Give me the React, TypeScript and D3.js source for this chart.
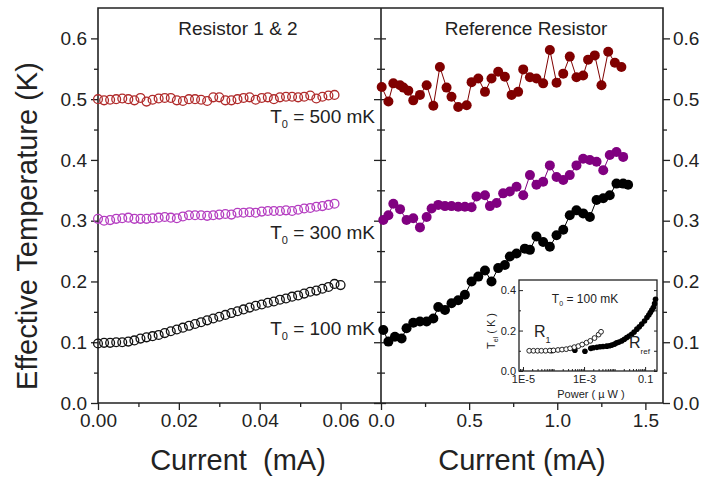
import React, { useEffect, useRef } from 'react';
import * as d3 from 'd3';

// Resistor 1 & 2: bias current (mA) vs effective temperature (K)
const currentLeft = [
  0, 0.0015, 0.003, 0.0045, 0.006, 0.0075, 0.009, 0.0105, 0.012, 0.0135,
  0.015, 0.0165, 0.018, 0.0195, 0.021, 0.0225, 0.024, 0.0255, 0.027, 0.0285,
  0.03, 0.0315, 0.033, 0.0345, 0.036, 0.0375, 0.039, 0.0405, 0.042, 0.0435,
  0.045, 0.0465, 0.048, 0.0495, 0.051, 0.0525, 0.054, 0.0555, 0.057, 0.0585, 0.06,
];
const tempLeft500 = [
  0.500, 0.498, 0.499, 0.500, 0.501, 0.500, 0.498, 0.502, 0.496, 0.499,
  0.501, 0.502, 0.502, 0.498, 0.497, 0.500, 0.500, 0.499, 0.497, 0.503,
  0.503, 0.498, 0.498, 0.500, 0.502, 0.503, 0.499, 0.502, 0.503, 0.500,
  0.503, 0.504, 0.504, 0.503, 0.504, 0.506, 0.501, 0.504, 0.506, 0.507,
];
const tempLeft300 = [
  0.303, 0.300, 0.301, 0.303, 0.304, 0.305, 0.303, 0.303, 0.303, 0.304,
  0.305, 0.306, 0.305, 0.304, 0.307, 0.309, 0.309, 0.309, 0.308, 0.309,
  0.310, 0.311, 0.310, 0.313, 0.313, 0.314, 0.313, 0.315, 0.316, 0.316,
  0.316, 0.317, 0.316, 0.318, 0.320, 0.321, 0.323, 0.324, 0.326, 0.328,
];
const tempLeft100 = [
  0.098, 0.099, 0.099, 0.100, 0.100, 0.101, 0.103, 0.106, 0.108, 0.110,
  0.112, 0.115, 0.118, 0.121, 0.124, 0.127, 0.130, 0.133, 0.136, 0.139,
  0.142, 0.145, 0.148, 0.151, 0.154, 0.157, 0.160, 0.162, 0.165, 0.167,
  0.170, 0.172, 0.175, 0.177, 0.180, 0.183, 0.185, 0.188, 0.191, 0.196, 0.194,
];

// Reference resistor
const currentRef500 = [
  0.004, 0.042, 0.070, 0.108, 0.127, 0.155, 0.183, 0.221, 0.259, 0.297,
  0.334, 0.372, 0.400, 0.438, 0.486, 0.514, 0.552, 0.590, 0.627, 0.665,
  0.703, 0.741, 0.778, 0.807, 0.845, 0.882, 0.920, 0.958, 0.996, 1.034,
  1.071, 1.109, 1.147, 1.175, 1.213, 1.251, 1.289, 1.327, 1.364,
];
const tempRef500 = [
  0.520, 0.496, 0.526, 0.523, 0.519, 0.514, 0.498, 0.507, 0.523, 0.489,
  0.553, 0.519, 0.504, 0.487, 0.490, 0.528, 0.534, 0.512, 0.534, 0.545,
  0.537, 0.507, 0.512, 0.549, 0.536, 0.534, 0.526, 0.581, 0.527, 0.542,
  0.570, 0.536, 0.539, 0.565, 0.572, 0.523, 0.578, 0.560, 0.553,
];
const currentRef300 = [
  0.013, 0.042, 0.070, 0.108, 0.145, 0.183, 0.221, 0.259, 0.287, 0.325,
  0.363, 0.400, 0.438, 0.476, 0.514, 0.542, 0.590, 0.618, 0.656, 0.693,
  0.731, 0.769, 0.807, 0.845, 0.882, 0.920, 0.958, 0.996, 1.034, 1.071,
  1.109, 1.147, 1.185, 1.223, 1.261, 1.298, 1.336, 1.374,
];
const tempRef300 = [
  0.301, 0.309, 0.328, 0.319, 0.301, 0.304, 0.289, 0.306, 0.320, 0.326,
  0.324, 0.324, 0.323, 0.323, 0.322, 0.340, 0.342, 0.324, 0.329, 0.345,
  0.348, 0.356, 0.342, 0.375, 0.359, 0.364, 0.391, 0.372, 0.367, 0.375,
  0.391, 0.402, 0.400, 0.397, 0.383, 0.408, 0.413, 0.405,
];
const currentRef100 = [
  0.013, 0.042, 0.079, 0.117, 0.145, 0.183, 0.221, 0.259, 0.297, 0.325,
  0.363, 0.400, 0.438, 0.476, 0.514, 0.552, 0.590, 0.627, 0.665, 0.703,
  0.731, 0.769, 0.816, 0.845, 0.882, 0.920, 0.958, 0.996, 1.034, 1.071,
  1.109, 1.147, 1.185, 1.223, 1.261, 1.298, 1.336, 1.374, 1.402,
];
const tempRef100 = [
  0.120, 0.101, 0.109, 0.106, 0.123, 0.132, 0.134, 0.134, 0.139, 0.158,
  0.153, 0.164, 0.169, 0.178, 0.200, 0.208, 0.218, 0.200, 0.222, 0.227,
  0.241, 0.246, 0.254, 0.252, 0.274, 0.265, 0.257, 0.276, 0.285, 0.309,
  0.317, 0.312, 0.306, 0.334, 0.337, 0.342, 0.361, 0.361, 0.359,
];

// inset: T_el vs dissipated power (uW) at T0 = 100 mK
const powerR1 = [
  1.6e-5, 2.2e-5, 3.0e-5, 4.0e-5, 5.5e-5, 7.6e-5, 1.0e-4, 1.4e-4, 1.9e-4, 2.6e-4,
  3.5e-4, 4.8e-4, 6.5e-4, 8.7e-4, 1.2e-3, 1.6e-3, 2.2e-3, 3.0e-3, 3.6e-3,
];
const tempR1 = [
  0.100, 0.100, 0.100, 0.100, 0.100, 0.101, 0.102, 0.104, 0.106, 0.108,
  0.112, 0.118, 0.123, 0.131, 0.140, 0.149, 0.163, 0.180, 0.194,
];
const powerRref = [
  8.7e-5, 5.0e-4, 1.07e-3, 1.66e-3, 2.0e-3, 2.63e-3, 3.31e-3, 4.17e-3, 5.5e-3, 6.76e-3,
  8.13e-3, 0.0100, 0.0117, 0.0141, 0.0174, 0.0209, 0.0251, 0.0302, 0.0363, 0.0437,
  0.0537, 0.0646, 0.0776, 0.0955, 0.115, 0.132, 0.148, 0.166, 0.186, 0.204, 0.219,
];
const tempRref = [
  0.100, 0.103, 0.098, 0.112, 0.115, 0.117, 0.120, 0.121, 0.123, 0.125,
  0.128, 0.133, 0.139, 0.143, 0.149, 0.157, 0.166, 0.173, 0.182, 0.193,
  0.207, 0.219, 0.232, 0.247, 0.264, 0.277, 0.289, 0.302, 0.314, 0.333, 0.355,
];

const tempTicks = [0, 0.1, 0.2, 0.3, 0.4, 0.5, 0.6];
const tempMinorTicks = [0.05, 0.15, 0.25, 0.35, 0.45, 0.55];
const leftCurrentTicks = [0, 0.02, 0.04, 0.06];
const leftCurrentMinor = [0.01, 0.03, 0.05];
const refCurrentTicks = [0, 0.5, 1.0, 1.5];
const refCurrentMinor = [0.25, 0.75, 1.25];
const insetTempTicks = [0, 0.2, 0.4];
const insetTempMinor = [0.1, 0.3];
const insetPowerTicks = [1e-5, 1e-3, 0.1];
const insetPowerLabels = ['1E-5', '1E-3', '0.1'];

const FONT = "'Liberation Sans', Arial, Helvetica, sans-serif";
const INK = '#222';

const TemperatureChart: React.FC = () => {
  const ref = useRef<SVGSVGElement>(null);

  useEffect(() => {
    const svg = d3.select(ref.current);
    svg.selectAll('*').remove();

    const xLeft = d3.scaleLinear().domain([0, 0.07]).range([98, 381]);
    const xRight = d3.scaleLinear().domain([0, 1.6]).range([381, 663]);
    const y = d3.scaleLinear().domain([0, 0.65]).range([403, 8]);

    const fmt1 = d3.format('.1f');
    const fmt2 = d3.format('.2f');

    // common axis styling
    const styleAxis = (g: any, size: number) => {
      g.select('.domain').remove();
      g.attr('font-family', FONT).attr('font-size', size).style('color', INK);
      g.selectAll('.tick line').attr('stroke-width', 1.3);
    };

    const addAxis = (axis: any, tx: number, ty: number, size = 19) => {
      const g = svg.append('g').attr('transform', `translate(${tx},${ty})`).call(axis);
      styleAxis(g, size);
      return g;
    };

    // left temperature axis
    addAxis(d3.axisLeft(y).tickValues(tempTicks).tickSize(7).tickPadding(4).tickFormat(fmt1), xLeft(0), 0);
    addAxis(d3.axisLeft(y).tickValues(tempMinorTicks).tickSize(4).tickFormat(() => ''), xLeft(0), 0);
    // shared divider: ticks into both panels
    addAxis(d3.axisLeft(y).tickValues(tempTicks).tickSize(7).tickFormat(() => ''), xLeft(0.07), 0);
    addAxis(d3.axisLeft(y).tickValues(tempMinorTicks).tickSize(4).tickFormat(() => ''), xLeft(0.07), 0);
    addAxis(d3.axisRight(y).tickValues(tempTicks).tickSize(5).tickFormat(() => ''), xRight(0), 0);
    addAxis(d3.axisRight(y).tickValues(tempMinorTicks).tickSize(4).tickFormat(() => ''), xRight(0), 0);
    // right temperature axis
    addAxis(d3.axisRight(y).tickValues(tempTicks).tickSize(7).tickPadding(3).tickFormat(fmt1), xRight(1.6), 0);
    addAxis(d3.axisRight(y).tickValues(tempMinorTicks).tickSize(4).tickFormat(() => ''), xRight(1.6), 0);

    // current axes
    addAxis(d3.axisBottom(xLeft).tickValues(leftCurrentTicks).tickSize(7).tickPadding(4).tickFormat(fmt2), 0, y(0));
    addAxis(d3.axisBottom(xLeft).tickValues(leftCurrentMinor).tickSize(4).tickFormat(() => ''), 0, y(0));
    addAxis(d3.axisBottom(xRight).tickValues(refCurrentTicks).tickSize(7).tickPadding(4).tickFormat(fmt1), 0, y(0));
    addAxis(d3.axisBottom(xRight).tickValues(refCurrentMinor).tickSize(4).tickFormat(() => ''), 0, y(0));

    // frame
    const [x0, x1] = [xLeft(0), xRight(1.6)];
    const [yTop, yBot] = [y(0.65), y(0)];
    svg.append('path')
      .attr('d', `M${x0},${yTop}H${x1}V${yBot}H${x0}Z M${xLeft(0.07)},${yTop}V${yBot}`)
      .attr('fill', 'none')
      .attr('stroke', INK)
      .attr('stroke-width', 1.6);

    // open circles for resistors 1 & 2
    const leftSeries = [
      { temps: tempLeft500, color: '#b02a2a' },
      { temps: tempLeft300, color: '#b43cc0' },
      { temps: tempLeft100, color: '#111' },
    ];
    leftSeries.forEach(s => {
      svg.append('g')
        .selectAll('circle')
        .data(s.temps)
        .join('circle')
        .attr('cx', (_, i) => xLeft(currentLeft[i]))
        .attr('cy', d => y(d))
        .attr('r', 4.4)
        .attr('fill', 'none')
        .attr('stroke', s.color)
        .attr('stroke-width', 1.3);
    });

    // filled, connected points for the reference resistor
    const refSeries = [
      { currents: currentRef500, temps: tempRef500, color: '#800000' },
      { currents: currentRef300, temps: tempRef300, color: '#800080' },
      { currents: currentRef100, temps: tempRef100, color: '#000' },
    ];
    const line = d3.line<[number, number]>().x(d => xRight(d[0])).y(d => y(d[1]));
    refSeries.forEach(s => {
      const pts = d3.zip(s.currents, s.temps) as [number, number][];
      svg.append('path')
        .datum(pts)
        .attr('d', line)
        .attr('fill', 'none')
        .attr('stroke', s.color)
        .attr('stroke-width', 1);
      svg.append('g')
        .selectAll('circle')
        .data(pts)
        .join('circle')
        .attr('cx', d => xRight(d[0]))
        .attr('cy', d => y(d[1]))
        .attr('r', 5)
        .attr('fill', s.color);
    });

    // panel titles and T0 labels
    const addText = (txt: string, x: number, yy: number, size: number, anchor = 'middle') =>
      svg.append('text')
        .attr('x', x).attr('y', yy)
        .attr('font-family', FONT).attr('font-size', size)
        .attr('text-anchor', anchor).attr('fill', INK)
        .text(txt);

    addText('Resistor 1 & 2', 238, 35, 19);
    addText('Reference Resistor', 526, 35, 19);

    const t0Label = (value: string, yy: number) => {
      const t = svg.append('text')
        .attr('x', 375).attr('y', yy)
        .attr('font-family', FONT).attr('font-size', 19)
        .attr('text-anchor', 'end').attr('fill', INK);
      t.append('tspan').text('T');
      t.append('tspan').attr('font-size', 11).attr('dy', 5).text('0');
      t.append('tspan').attr('dy', -5).text(` = ${value} mK`);
    };
    t0Label('500', 123);
    t0Label('300', 239);
    t0Label('100', 335);

    // axis titles
    addText('Current  (mA)', 238, 470, 29).attr('xml:space', 'preserve').style('white-space', 'pre');
    addText('Current (mA)', 522, 470, 29);
    svg.append('text')
      .attr('transform', 'translate(37,226) rotate(-90)')
      .attr('font-family', FONT).attr('font-size', 29)
      .attr('text-anchor', 'middle').attr('fill', INK)
      .text('Effective Temperature (K)');

    // inset
    const ix = d3.scaleLog().domain([7.4e-6, 0.245]).range([519, 657]);
    const iy = d3.scaleLinear().domain([0, 0.45]).range([371, 280]);
    const inset = svg.append('g');
    inset.append('rect')
      .attr('x', 519).attr('y', 280)
      .attr('width', 657 - 519).attr('height', 371 - 280)
      .attr('fill', '#fff')
      .attr('stroke', INK)
      .attr('stroke-width', 1.3);

    const addInsetAxis = (axis: any, tx: number, ty: number) => {
      const g = inset.append('g').attr('transform', `translate(${tx},${ty})`).call(axis);
      styleAxis(g, 11);
      g.selectAll('.tick line').attr('stroke-width', 1);
      return g;
    };
    const minorPower = ix.ticks().filter(v => !insetPowerTicks.some(m => Math.abs(m - v) / m < 1e-6));
    addInsetAxis(
      d3.axisBottom(ix).tickValues(insetPowerTicks).tickSize(-4).tickPadding(4)
        .tickFormat((_: any, i: number) => insetPowerLabels[i]),
      0, 371,
    );
    addInsetAxis(d3.axisBottom(ix).tickValues(minorPower).tickSize(-2).tickFormat(() => ''), 0, 371);
    addInsetAxis(d3.axisLeft(iy).tickValues(insetTempTicks).tickSize(-4).tickPadding(3).tickFormat(fmt1), 519, 0);
    addInsetAxis(d3.axisLeft(iy).tickValues(insetTempMinor).tickSize(-2).tickFormat(() => ''), 519, 0);
    addInsetAxis(d3.axisRight(iy).tickValues(insetTempTicks.concat(insetTempMinor)).tickSize(-3).tickFormat(() => ''), 657, 0);

    inset.append('g')
      .selectAll('circle')
      .data(d3.zip(powerRref, tempRref))
      .join('circle')
      .attr('cx', d => ix(d[0]))
      .attr('cy', d => iy(d[1]))
      .attr('r', 2.8)
      .attr('fill', '#000');
    inset.append('g')
      .selectAll('circle')
      .data(d3.zip(powerR1, tempR1))
      .join('circle')
      .attr('cx', d => ix(d[0]))
      .attr('cy', d => iy(d[1]))
      .attr('r', 2.4)
      .attr('fill', '#fff')
      .attr('stroke', '#111')
      .attr('stroke-width', 0.9);

    const subText = (x: number, yy: number, main: string, sub: string, size: number, subSize: number, dy: number, anchor = 'start') => {
      const t = inset.append('text')
        .attr('x', x).attr('y', yy)
        .attr('font-family', FONT).attr('font-size', size)
        .attr('text-anchor', anchor).attr('fill', INK);
      t.append('tspan').text(main);
      t.append('tspan').attr('font-size', subSize).attr('dy', dy).text(sub);
      return t;
    };
    const ts = subText(585, 303, 'T', '0', 12, 7, 3, 'middle');
    ts.append('tspan').attr('dy', -3).text(' = 100 mK');
    subText(534, 337, 'R', '1', 16, 9, 6);
    subText(629, 348, 'R', 'ref', 16, 8, 6);

    const tel = inset.append('text')
      .attr('transform', 'translate(495,331) rotate(-90)')
      .attr('font-family', FONT).attr('font-size', 11)
      .attr('text-anchor', 'middle').attr('fill', INK);
    tel.append('tspan').text('T');
    tel.append('tspan').attr('font-size', 7).attr('dy', 3).text('el');
    tel.append('tspan').attr('dy', -3).text(' ( K )');

    inset.append('text')
      .attr('x', 591).attr('y', 398)
      .attr('font-family', FONT).attr('font-size', 11)
      .attr('text-anchor', 'middle').attr('fill', INK)
      .text('Power ( \u00b5 W )');
  }, []);

  return (
    <svg
      ref={ref}
      width={701}
      height={481}
      style={{ position: 'absolute', left: 0, top: 0, background: '#fff' }}
    />
  );
};

export default function App() {
  return <TemperatureChart />;
}
